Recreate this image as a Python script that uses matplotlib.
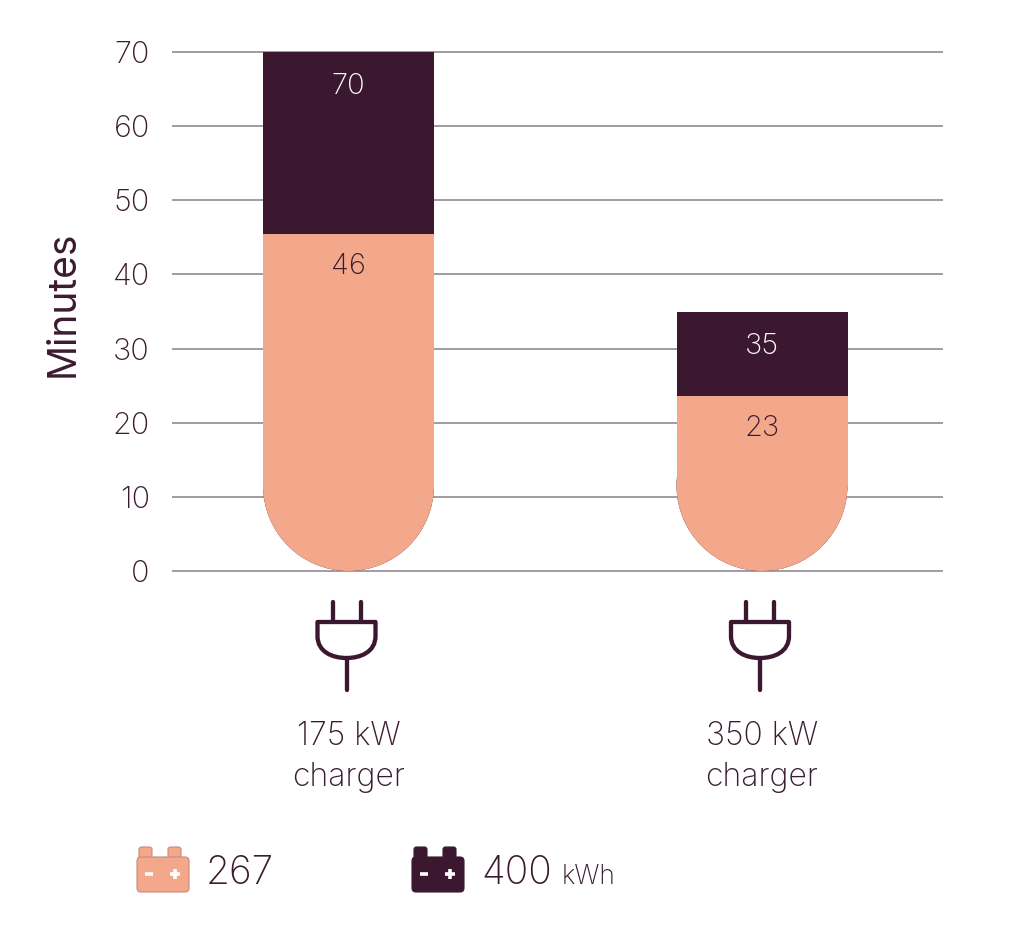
import matplotlib
matplotlib.use("Agg")
import matplotlib.pyplot as plt
from matplotlib.patches import Rectangle, Ellipse, FancyBboxPatch, PathPatch
from matplotlib.path import Path

plt.rcParams["font.family"] = ["Inter", "DejaVu Sans"]
plt.rcParams["font.weight"] = "light"

# data
chargers = ["175 kW\ncharger", "350 kW\ncharger"]
minutes_267 = [45.5, 23.6]     # light bars (267 kWh battery)
labels_267 = ["46", "23"]
minutes_400 = [70, 35]         # dark bars (400 kWh battery)
labels_400 = ["70", "35"]
yticks = [0, 10, 20, 30, 40, 50, 60, 70]

LIGHT = "#F4A88B"
DARK = "#3B1830"
TEXT = "#3A1B30"
GRID = "#8C8089"

W, H = 1024, 942
fig = plt.figure(figsize=(W / 100, H / 100), dpi=100)

# main axes, laid out in pixels
ylo, yhi = -1, 71
px_y = 519 / 70
bot_px = 571 + (0 - ylo) * px_y
top_px = 52 - (yhi - 70) * px_y
ax = fig.add_axes([172 / W, 1 - bot_px / H, 771 / W, (bot_px - top_px) / H])
px_x = 413.5
xlo = -(348.5 - 172) / px_x
xhi = 1 + (943 - 762) / px_x
ax.set_xlim(xlo, xhi)
ax.set_ylim(ylo, yhi)
for s in ax.spines.values():
    s.set_visible(False)
ax.set_xticks([])
ax.set_yticks(yticks)
ax.tick_params(axis="y", length=0, pad=16, labelsize=22, labelcolor=TEXT)
for t in yticks:
    ax.axhline(t, color=GRID, lw=1.1, zorder=0)
ax.set_ylabel("Minutes", fontsize=28, color=TEXT)
ax.yaxis.set_label_coords(-0.117, 0.515)

bw = 171 / px_x
ry = (bw / 2) * px_x / px_y   # ellipse height in data units -> circle in pixels


def rounded_bar(x, h, color, z):
    ax.add_patch(Rectangle((x - bw / 2, ry), bw, h - ry, facecolor=color,
                           edgecolor="none", zorder=z))
    ax.add_patch(Ellipse((x, ry), bw, 2 * ry, facecolor=color,
                         edgecolor="none", zorder=z))


for i in range(len(chargers)):
    rounded_bar(i, minutes_400[i], DARK, 2)
    rounded_bar(i, minutes_267[i], LIGHT, 3)
    ax.text(i, minutes_400[i] - 4.7, labels_400[i], ha="center", va="center",
            fontsize=21, color="white", zorder=4)
    ax.text(i, minutes_267[i] - 4.4, labels_267[i], ha="center", va="center",
            fontsize=21, color=TEXT, zorder=4)

# overlay in pixel coordinates for icons and labels
ov = fig.add_axes([0, 0, 1, 1], zorder=5)
ov.set_xlim(0, W)
ov.set_ylim(H, 0)
ov.axis("off")

lw_icon = 3.1
for i, lab in enumerate(chargers):
    cx = ax.transData.transform((i, 0))[0] - 2
    for dx in (-14, 14):
        ov.plot([cx + dx, cx + dx], [602, 622], color=DARK, lw=lw_icon,
                solid_capstyle="round")
    verts = [(cx - 29, 622), (cx + 29, 622), (cx + 29, 636),
             (cx + 29, 652), (cx + 14, 658), (cx, 658),
             (cx - 14, 658), (cx - 29, 652), (cx - 29, 636),
             (cx - 29, 622)]
    codes = [Path.MOVETO, Path.LINETO, Path.LINETO,
             Path.CURVE4, Path.CURVE4, Path.CURVE4,
             Path.CURVE4, Path.CURVE4, Path.CURVE4, Path.CLOSEPOLY]
    ov.add_patch(PathPatch(Path(verts, codes), facecolor="none",
                           edgecolor=DARK, lw=lw_icon, joinstyle="round"))
    ov.plot([cx, cx], [658, 690], color=DARK, lw=lw_icon, solid_capstyle="round")
    ov.text(cx + 2, 757, lab, ha="center", va="center", fontsize=23,
            color=TEXT, linespacing=1.45)


def battery(x0, color, sign_color, edge):
    ov.add_patch(FancyBboxPatch((x0 + 2, 847), 13, 14,
                                boxstyle="round,pad=0,rounding_size=2.5",
                                facecolor=color, edgecolor=edge, lw=0.8))
    ov.add_patch(FancyBboxPatch((x0 + 31, 847), 13, 14,
                                boxstyle="round,pad=0,rounding_size=2.5",
                                facecolor=color, edgecolor=edge, lw=0.8))
    ov.add_patch(FancyBboxPatch((x0, 857), 52, 35,
                                boxstyle="round,pad=0,rounding_size=4",
                                facecolor=color, edgecolor=edge, lw=0.8))
    ov.plot([x0 + 8, x0 + 16], [873.5, 873.5], color=sign_color, lw=2.6,
            solid_capstyle="butt")
    ov.plot([x0 + 33, x0 + 43], [873.5, 873.5], color=sign_color, lw=2.6,
            solid_capstyle="butt")
    ov.plot([x0 + 38, x0 + 38], [868.5, 878.5], color=sign_color, lw=2.6,
            solid_capstyle="butt")


battery(137, LIGHT, "white", "#C98A78")
battery(412, DARK, "white", DARK)
ov.text(206, 884, "267", fontsize=28, color=TEXT, ha="left", va="baseline")
ov.text(481, 884, "400", fontsize=28, color=TEXT, ha="left", va="baseline")
ov.text(562, 884, "kWh", fontsize=19, color=TEXT, ha="left", va="baseline")

fig.savefig("out.png", dpi=100, facecolor="white")
